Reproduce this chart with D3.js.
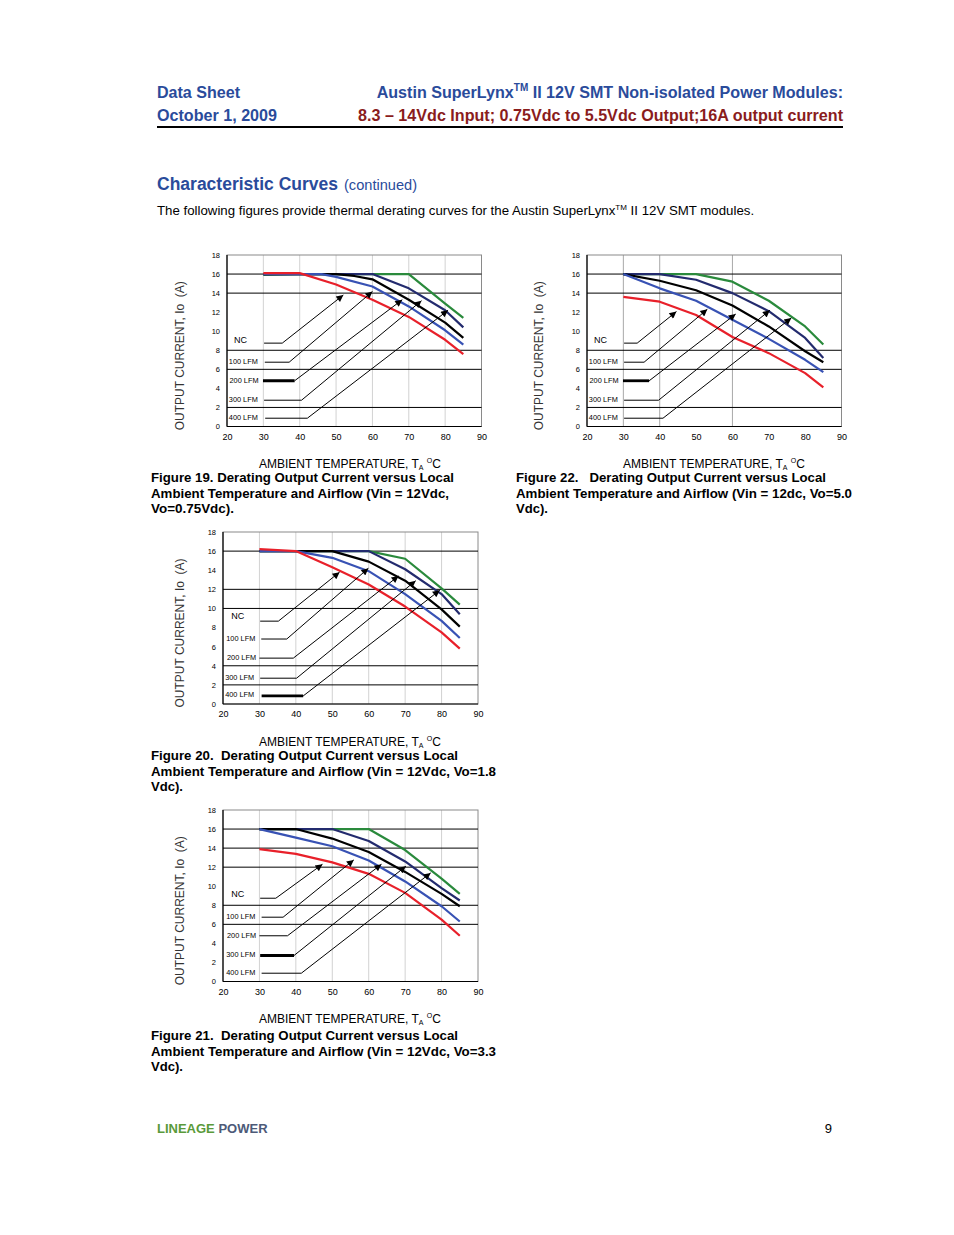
<!DOCTYPE html>
<html><head><meta charset="utf-8">
<script src="https://cdn.jsdelivr.net/npm/d3@7/dist/d3.min.js"></script>
<style>body{margin:0;background:#fff}svg{display:block;font-family:"Liberation Sans",Arial,sans-serif}text{white-space:pre}</style>
</head><body>
<script>
// ---------------- DATA ----------------
const seriesNames = ["NC", "100 LFM", "200 LFM", "300 LFM", "400 LFM"];
const xTicks = [20, 30, 40, 50, 60, 70, 80, 90];
const yTicks = [0, 2, 4, 6, 8, 10, 12, 14, 16, 18];

// Figure 19 (Vo = 0.75Vdc): [temperature °C, current A]
const fig19NC  = [[30,16.1],[40,16.1],[50,14.9],[60,13.3],[70,11.5],[80,9.1],[85,7.6]];
const fig19L100 = [[30,16],[46,16],[50,15.7],[60,14.7],[70,12.6],[80,10.1],[85,8.6]];
const fig19L200 = [[30,16],[50,16],[55,15.8],[60,15.45],[70,13.3],[80,10.9],[85,9.3]];
const fig19L300 = [[30,16],[60,16],[70,14.5],[80,12.2],[85,10.4]];
const fig19L400 = [[30,15.9],[40,16],[70,16],[80,12.9],[85,11.4]];
// Figure 22 (Vo = 5.0Vdc)
const fig22NC  = [[30,13.6],[40,13.1],[50,11.7],[60,9.4],[70,7.7],[80,5.6],[85,4.1]];
const fig22L100 = [[30,16],[40,14.5],[50,13.2],[60,11.2],[70,9.2],[80,7.0],[85,5.7]];
const fig22L200 = [[30,16],[40,15.3],[50,14.3],[60,12.7],[70,10.5],[80,7.9],[85,6.75]];
const fig22L300 = [[30,16],[40,16],[50,15.4],[60,14.0],[70,12.1],[80,9.3],[85,7.2]];
const fig22L400 = [[30,16],[50,16],[60,15.2],[70,13.2],[80,10.5],[85,8.6]];
// Figure 20 (Vo = 1.8Vdc)
const fig20NC  = [[30,16.2],[40,16],[50,14.3],[60,12.5],[70,10.2],[80,7.5],[85,5.8]];
const fig20L100 = [[30,16],[40,16],[50,15.3],[60,13.9],[70,11.5],[80,8.7],[85,6.9]];
const fig20L200 = [[30,16],[50,16],[60,14.9],[70,12.9],[80,9.9],[85,8.1]];
const fig20L300 = [[30,16],[60,16],[70,14.1],[80,11.5],[85,9.4]];
const fig20L400 = [[30,16],[60,16],[70,15.2],[80,12.1],[85,10.4]];
// Figure 21 (Vo = 3.3Vdc)
const fig21NC  = [[30,13.9],[40,13.4],[50,12.5],[60,11.3],[70,9.3],[80,6.5],[85,4.8]];
const fig21L100 = [[30,16],[40,15.1],[50,14.2],[60,12.7],[70,10.5],[80,7.9],[85,6.3]];
const fig21L200 = [[30,16],[40,16],[50,15.0],[60,13.6],[70,11.5],[80,9.2],[85,7.9]];
const fig21L300 = [[30,16],[50,16],[60,14.75],[70,12.6],[80,9.8],[85,8.5]];
const fig21L400 = [[30,16],[60,16],[70,13.8],[80,10.8],[85,9.2]];

// Annotation callouts in data units: [labelX, labelY, lineStartX, lineEndX, lineY, arrowTipX, arrowTipY]
const fig19Notes = [[21.9,8.8,30.2,35.2,8.75,52,13.8],[20.5,6.6,30.4,37.1,6.75,60,14.16],[20.7,4.6,29.9,38.6,4.8,68.2,13.3],[20.5,2.6,30.2,40.5,2.76,73.5,13.2],[20.5,0.7,30.5,42.1,0.87,80.8,12.2]];
const fig22Notes = [[21.9,8.8,30.2,33.8,8.75,44.6,12.06],[20.5,6.6,30.2,35.7,6.75,53.1,12.3],[20.7,4.6,29.9,37.1,4.8,60.9,11.8],[20.5,2.6,30.2,39.7,2.76,70.3,12.2],[20.5,0.7,30.2,40.9,0.87,76.2,11.4]];
const fig20Notes = [[22.3,8.9,30.2,35.2,8.67,52,13.8],[20.9,6.6,30.5,37.5,6.8,59.9,14.2],[21.1,4.6,30.0,39.3,4.8,68.2,13.4],[20.6,2.5,30.2,40.2,2.7,72.9,12.9],[20.6,0.7,30.6,42.0,0.84,79.5,11.9]];
const fig21Notes = [[22.3,8.9,30.2,34.5,8.74,47.3,12.3],[20.9,6.6,30.6,36.5,6.75,55.9,12.76],[21.1,4.6,30.0,37.7,4.8,63.5,12.3],[20.9,2.6,30.2,39.5,2.73,70.2,12.1],[20.9,0.7,30.6,41.5,0.87,77,11.4]];

const fig19HGrid = [16,14,8,6,2], fig19VGrid = [30,40,50,60,70,80];
const fig22HGrid = [16,14,8,6,2], fig22VGrid = [30,40,60];
const fig20HGrid = [16,12,10,4,2], fig20VGrid = [30,40,50,60,70,80];
const fig21HGrid = [16,14,12,8,6], fig21VGrid = [30,40,50,60,70,80];

// ---------------- STYLE / LAYOUT ----------------
const colors = ["#e8202a", "#3852b4", "#000000", "#232b6e", "#2a8a3c"];
const W = 954, H = 1235;
const svg = d3.select("body").append("svg").attr("width", W).attr("height", H);
svg.append("rect").attr("width", W).attr("height", H).attr("fill", "#fff");

const defs = svg.append("defs");
defs.append("marker").attr("id", "arr").attr("viewBox", "0 0 10 10").attr("refX", 10).attr("refY", 5)
  .attr("markerWidth", 10).attr("markerHeight", 7).attr("markerUnits", "userSpaceOnUse").attr("orient", "auto")
  .append("path").attr("d", "M0,0 L10,5 L0,10 Z").attr("fill", "#000");

const blue = "#2a4b9b", red = "#8a1c1c";

function txt(x, y, s, o) {
  const t = svg.append("text").attr("x", x).attr("y", y).text(s)
    .attr("font-size", o.size).attr("fill", o.fill || "#000").attr("font-weight", o.bold ? "bold" : "normal");
  if (o.anchor) t.attr("text-anchor", o.anchor);
  if (o.len) t.attr("textLength", o.len).attr("lengthAdjust", "spacingAndGlyphs");
  return t;
}

// Header
txt(157, 98, "Data Sheet", {size: 16, bold: true, fill: blue, len: 83});
txt(157, 121, "October 1, 2009", {size: 16, bold: true, fill: blue, len: 120});
{
  const t = svg.append("text").attr("x", 843).attr("y", 98).attr("text-anchor", "end")
    .attr("font-size", 16.1).attr("font-weight", "bold").attr("fill", blue);
  t.append("tspan").text("Austin SuperLynx");
  t.append("tspan").text("TM").attr("font-size", 10).attr("dy", -7);
  t.append("tspan").text(" II 12V SMT Non-isolated Power Modules:").attr("dy", 7);
}
txt(843, 121, "8.3 – 14Vdc Input; 0.75Vdc to 5.5Vdc Output;16A output current", {size: 16, bold: true, fill: red, anchor: "end", len: 485});
svg.append("line").attr("x1", 157).attr("x2", 843).attr("y1", 127).attr("y2", 127).attr("stroke", "#000").attr("stroke-width", 2);

txt(157, 190, "Characteristic Curves", {size: 18, bold: true, fill: blue, len: 181});
txt(344, 190, "(continued)", {size: 14, fill: blue, len: 73});
{
  const t = svg.append("text").attr("x", 157).attr("y", 215).attr("font-size", 13.25).attr("fill", "#000");
  t.append("tspan").text("The following figures provide thermal derating curves for the Austin SuperLynx");
  t.append("tspan").text("TM").attr("font-size", 8).attr("dy", -5);
  t.append("tspan").text(" II 12V SMT modules.").attr("dy", 5);
}

// Footer
{
  const t = svg.append("text").attr("x", 157).attr("y", 1133).attr("font-size", 13).attr("font-weight", "bold");
  t.append("tspan").text("LINEAGE").attr("fill", "#5a9a3a");
  t.append("tspan").text(" POWER").attr("fill", "#4d5a78");
}
txt(832, 1133, "9", {size: 13, anchor: "end"});

function drawChart(c) {
  const g = svg.append("g");
  const x = d3.scaleLinear().domain([20, 90]).range([c.x0, c.x1]);
  const y = d3.scaleLinear().domain([0, 18]).range([c.y1, c.y0]);
  // vertical grid
  g.selectAll(".vg").data(c.vGrid).join("line")
    .attr("x1", d => x(d)).attr("x2", d => x(d)).attr("y1", c.y0).attr("y2", c.y1)
    .attr("stroke", c.vColor).attr("stroke-width", 1);
  g.append("rect").attr("x", c.x0).attr("y", c.y0).attr("width", c.x1 - c.x0).attr("height", c.y1 - c.y0)
    .attr("fill", "none").attr("stroke", "#8a8a8a").attr("stroke-width", 1);
  g.selectAll(".hg").data(c.hGrid).join("line")
    .attr("x1", c.x0).attr("x2", c.x1).attr("y1", d => y(d)).attr("y2", d => y(d))
    .attr("stroke", "#000").attr("stroke-width", 1);
  g.append("line").attr("x1", c.x0).attr("x2", c.x0).attr("y1", c.y0).attr("y2", c.y1).attr("stroke", "#000").attr("stroke-width", 1.2);
  g.append("line").attr("x1", c.x0).attr("x2", c.x1).attr("y1", c.y1).attr("y2", c.y1).attr("stroke", "#000").attr("stroke-width", 1.2);

  // axes
  const ay = g.append("g").attr("transform", `translate(${c.x0},0)`)
    .call(d3.axisLeft(y).tickValues(yTicks).tickSize(0).tickPadding(7).tickFormat(d3.format("d")));
  ay.select(".domain").remove();
  ay.selectAll("text").attr("font-size", 7.5).attr("font-family", "Liberation Sans, Arial").attr("fill", "#000");
  const ax = g.append("g").attr("transform", `translate(0,${c.y1})`)
    .call(d3.axisBottom(x).tickValues(xTicks).tickSize(0).tickPadding(7).tickFormat(d3.format("d")));
  ax.select(".domain").remove();
  ax.selectAll("text").attr("font-size", 9).attr("font-family", "Liberation Sans, Arial").attr("fill", "#000");

  // curves
  const line = d3.line().x(d => x(d[0])).y(d => y(d[1]));
  for (let i = c.curves.length - 1; i >= 0; i--) {
    g.append("path").attr("d", line(c.curves[i])).attr("fill", "none")
      .attr("stroke", colors[i]).attr("stroke-width", 2.2).attr("stroke-linejoin", "round");
  }

  // callouts
  c.notes.forEach((n, i) => {
    g.append("text").attr("x", x(n[0])).attr("y", y(n[1]))
      .attr("font-size", i === 0 ? 8.5 : 7).attr("fill", "#000")
      .attr("textLength", i === 0 ? 13 : 29).attr("lengthAdjust", "spacingAndGlyphs")
      .text(seriesNames[i]);
    g.append("line").attr("x1", x(n[2])).attr("x2", x(n[3])).attr("y1", y(n[4])).attr("y2", y(n[4]))
      .attr("stroke", "#000").attr("stroke-width", i === c.thick ? 2.8 : 1);
    g.append("line").attr("x1", x(n[3])).attr("x2", x(n[5])).attr("y1", y(n[4])).attr("y2", y(n[6]))
      .attr("stroke", "#000").attr("stroke-width", 1).attr("marker-end", "url(#arr)");
  });

  // axis titles
  const xt = g.append("text").attr("x", c.xTitleX).attr("y", c.y1 + 41.5).attr("font-size", 12).attr("fill", "#000");
  xt.append("tspan").text("AMBIENT TEMPERATURE, T");
  xt.append("tspan").text("A").attr("font-size", 7).attr("dy", 2);
  xt.append("tspan").text(" ").attr("dy", -2);
  xt.append("tspan").text("O").attr("font-size", 7).attr("dy", -5);
  xt.append("tspan").text("C").attr("dy", 5);
  g.append("text").attr("transform", `translate(${c.yTitleX},${(c.y0 + c.y1) / 2 + 15}) rotate(-90)`)
    .attr("text-anchor", "middle").attr("font-size", 12).attr("fill", "#333")
    .text("OUTPUT CURRENT, Io  (A)");

  // caption
  c.caption.forEach((s, i) => {
    txt(c.capX, c.capY + i * 15.5, s[0], {size: 13, bold: true, len: s[1]});
  });
}

drawChart({x0: 227, x1: 481.5, y0: 255, y1: 426.5, curves: [fig19NC, fig19L100, fig19L200, fig19L300, fig19L400],
  notes: fig19Notes, hGrid: fig19HGrid, vGrid: fig19VGrid, vColor: "#d2d2d2", thick: 2, xTitleX: 259, yTitleX: 184,
  capX: 151, capY: 482, caption: [["Figure 19. Derating Output Current versus Local", 303], ["Ambient Temperature and Airflow (Vin = 12Vdc,", 298], ["Vo=0.75Vdc).", 83]]});
drawChart({x0: 587, x1: 841.5, y0: 255, y1: 426.5, curves: [fig22NC, fig22L100, fig22L200, fig22L300, fig22L400],
  notes: fig22Notes, hGrid: fig22HGrid, vGrid: fig22VGrid, vColor: "#a8a8a8", thick: 2, xTitleX: 623, yTitleX: 543,
  capX: 516, capY: 482, caption: [["Figure 22.   Derating Output Current versus Local", 310], ["Ambient Temperature and Airflow (Vin = 12dc, Vo=5.0", 336], ["Vdc).", 32]]});
drawChart({x0: 223, x1: 478, y0: 532, y1: 704, curves: [fig20NC, fig20L100, fig20L200, fig20L300, fig20L400],
  notes: fig20Notes, hGrid: fig20HGrid, vGrid: fig20VGrid, vColor: "#d2d2d2", thick: 4, xTitleX: 259, yTitleX: 184,
  capX: 151, capY: 760, caption: [["Figure 20.  Derating Output Current versus Local", 307], ["Ambient Temperature and Airflow (Vin = 12Vdc, Vo=1.8", 345], ["Vdc).", 32]]});
drawChart({x0: 223, x1: 478, y0: 810, y1: 981.5, curves: [fig21NC, fig21L100, fig21L200, fig21L300, fig21L400],
  notes: fig21Notes, hGrid: fig21HGrid, vGrid: fig21VGrid, vColor: "#d2d2d2", thick: 3, xTitleX: 259, yTitleX: 184,
  capX: 151, capY: 1040, caption: [["Figure 21.  Derating Output Current versus Local", 307], ["Ambient Temperature and Airflow (Vin = 12Vdc, Vo=3.3", 345], ["Vdc).", 32]]});
</script>
</body></html>
